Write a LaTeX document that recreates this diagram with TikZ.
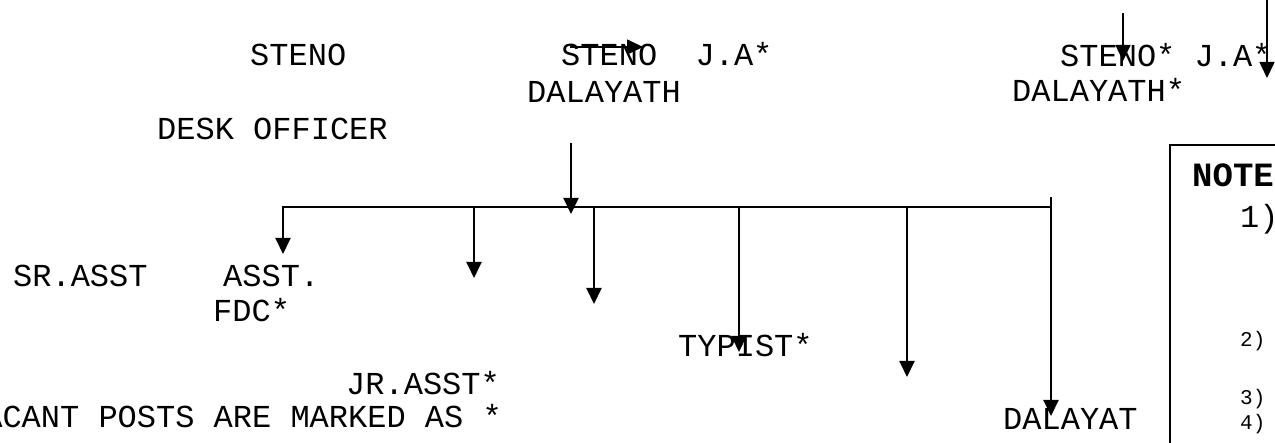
\documentclass[tikz,border=0pt]{standalone}
\usepackage{fontspec}
\setmonofont{Liberation Mono}
\usetikzlibrary{arrows.meta}
\begin{document}
\begin{tikzpicture}[x=1pt,y=-1pt,
  lbl/.style={anchor=base west,inner sep=0pt,font=\fontsize{32}{36}\selectfont\ttfamily},
  sml/.style={anchor=base west,inner sep=0pt,font=\fontsize{21}{24}\selectfont\ttfamily},
  bld/.style={anchor=base west,inner sep=0pt,font=\fontsize{34}{36}\selectfont\ttfamily\bfseries},
  conn/.style={line width=2pt},
  arr/.style={line width=2pt,-{Triangle[length=16pt,width=15pt]}},
  thinarr/.style={line width=1.6pt,-{Triangle[length=16pt,width=15pt]}},
]
\useasboundingbox (0,0) rectangle (1275,443);
\clip (0,0) rectangle (1275,443);
% texts
\node[lbl] (steno1) at (250,66) {STENO};
\node[lbl] (steno2) at (561,66) {STENO~~J.A*};
\node[lbl] (dal1) at (527,103) {DALAYATH};
\node[lbl] (desk) at (157,140) {DESK OFFICER};
\node[lbl] (steno3) at (1060,67) {STENO* J.A*};
\node[lbl] (dal2) at (1012,102) {DALAYATH*};
\node[lbl] (srasst) at (13,287) {SR.ASST};
\node[lbl] (asst) at (223,287) {ASST.};
\node[lbl] (fdc) at (213,322) {FDC*};
\node[lbl] (typist) at (678,357) {TYPIST*};
\node[lbl] (jrasst) at (346,395) {JR.ASST*};
\node[lbl,anchor=base east] (vacant) at (502,428) {VACANT POSTS ARE MARKED AS *};
\node[lbl] (dalayat) at (1003,430) {DALAYAT};
% note box
\draw[line width=1.5pt] (1170,450) -- (1170,145) -- (1280,145);
\node[bld] (note) at (1192,187) {NOTE};
\node[lbl] (n1) at (1240,228) {1)};
\node[sml] (n2) at (1240,347) {2)};
\node[sml] (n3) at (1240,405) {3)};
\node[sml] (n4) at (1240,430) {4)};
% free arrows
\coordinate (ja) at (570,47); \coordinate (jb) at (643,47);
\draw[thinarr] (ja) -- (jb);
\coordinate (ta) at (1123,13); \coordinate (tb) at (1123,61);
\draw[thinarr] (ta) -- (tb);
\coordinate (ua) at (1267,-2); \coordinate (ub) at (1267,78);
\draw[thinarr] (ua) -- (ub);
% tree
\coordinate (d0) at (571,143); \coordinate (d1) at (571,214);
\draw[arr] (d0) -- (d1);
\coordinate (bl) at (283,207); \coordinate (br) at (1051,207);
\coordinate (t0) at (283,254);
\draw[arr] (br) -- (bl) -- (t0);
\coordinate (b1) at (474,207); \coordinate (t1) at (474,278);
\coordinate (b2) at (594,207); \coordinate (t2) at (594,304);
\coordinate (b3) at (739,207); \coordinate (t3) at (739,352);
\coordinate (b4) at (907,207); \coordinate (t4) at (907,377);
\coordinate (b5) at (1051,197); \coordinate (t5) at (1051,416);
\draw[arr] (b1) -- (t1);
\draw[arr] (b2) -- (t2);
\draw[arr] (b3) -- (t3);
\draw[arr] (b4) -- (t4);
\draw[arr] (b5) -- (t5);
\end{tikzpicture}
\end{document}
